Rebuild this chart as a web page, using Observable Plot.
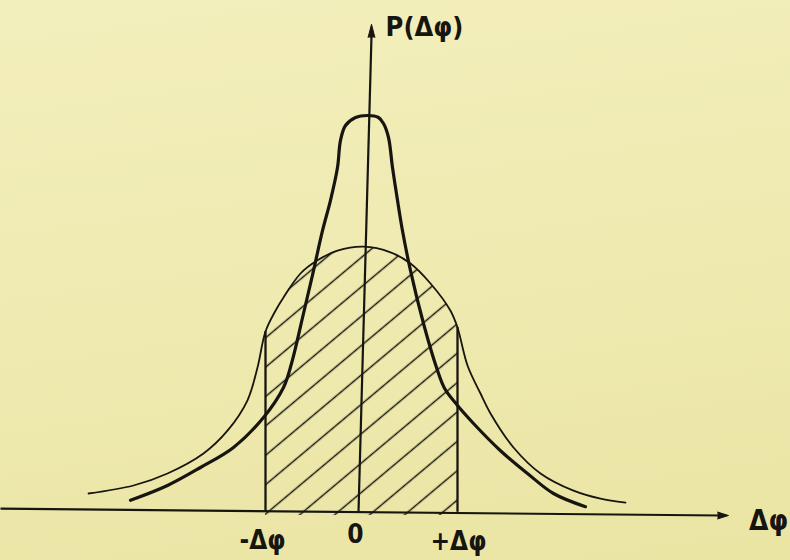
<!DOCTYPE html>
<html>
<head>
<meta charset="utf-8">
<script src="https://cdn.jsdelivr.net/npm/d3@7"></script>
<script src="https://cdn.jsdelivr.net/npm/@observablehq/plot@0.6"></script>
<style>
  html, body { margin: 0; padding: 0; }
  body {
    width: 790px; height: 560px; overflow: hidden;
    background: linear-gradient(172deg, #f3efbd 0%, #efeab0 50%, #eae5a3 100%);
  }
  #chart svg { display: block; }
</style>
</head>
<body>
<div id="chart"></div>
<script>
// Phase deviation Δφ (0 at the centre) and probability density P(Δφ).

// Sharp, tall distribution
const narrowX = [-2.40, -2.03, -1.70, -1.37, -1.07, -0.87, -0.79, -0.67, -0.57, -0.48, -0.40, -0.33, -0.30, -0.25, -0.15, -0.03, 0.08, 0.13, 0.18, 0.22, 0.27, 0.32, 0.40, 0.53, 0.66, 0.74, 0.86, 1.03, 1.30, 1.57, 1.83, 2.15];
const narrowP = [0.038, 0.075, 0.120, 0.170, 0.245, 0.320, 0.380, 0.505, 0.612, 0.712, 0.788, 0.870, 0.938, 0.975, 0.995, 1.000, 0.995, 0.980, 0.945, 0.870, 0.788, 0.712, 0.612, 0.480, 0.370, 0.318, 0.278, 0.230, 0.162, 0.105, 0.055, 0.022];

// Broad, low distribution
const wideX = [-2.82, -2.37, -2.03, -1.67, -1.43, -1.23, -1.13, -1.05, -0.95, -0.87, -0.70, -0.53, -0.33, -0.07, 0.20, 0.40, 0.60, 0.80, 0.87, 0.97, 1.10, 1.20, 1.43, 1.70, 2.03, 2.30, 2.55];
const wideP = [0.055, 0.075, 0.105, 0.155, 0.212, 0.288, 0.370, 0.460, 0.512, 0.545, 0.605, 0.638, 0.662, 0.672, 0.658, 0.630, 0.580, 0.512, 0.470, 0.375, 0.305, 0.255, 0.170, 0.105, 0.062, 0.042, 0.032];

// Interval bounds −Δφ … +Δφ and where their verticals meet the broad curve
const boundX = [-1.05, 0.87];
const boundTop = [0.460, 0.470];

// Labels under the abscissa
const tickLabels = ["-Δφ", "0", "+Δφ"];
const tickX = [-1.08, -0.15, 0.88];
const tickY = [-0.064, -0.048, -0.066];

// Axis titles
const xTitle = "Δφ";
const yTitle = "P(Δφ)";

const ink = "#17150f";
const narrow = narrowX.map((x, i) => ({x, p: narrowP[i]}));
const wide = wideX.map((x, i) => ({x, p: wideP[i]}));
const bounds = boundX.map((x, i) => ({x, top: boundTop[i]}));
const ticks = tickLabels.map((label, i) => ({label, x: tickX[i], y: tickY[i]}));

// Hand-drawn axes: slightly tilted ordinate, abscissa sloping a touch
const axes = [
  {x1: -3.70, y1: 0.017, x2: 3.50, y2: 0.000},   // abscissa
  {x1: -0.12, y1: 0.008, x2: 0.01, y2: 1.200}    // ordinate
];
const heads = [
  {x: 3.58, y: 0.000, rotate: 90, length: 15},
  {x: 0.01, y: 1.228, rotate: 0, length: 18}
];

const font = "'DejaVu Sans Condensed', 'DejaVu Sans', sans-serif";

const plot = Plot.plot({
  width: 790,
  height: 560,
  margin: 0,
  style: {background: "transparent", color: ink, fontFamily: font},
  x: {domain: [-3.70, 4.20], axis: null},
  y: {domain: [-0.1125, 1.2875], axis: null},
  marks: [
    // hatched probability inside ±Δφ under the broad curve
    Plot.areaY(wide, {x: "x", y: "p", curve: "catmull-rom", fill: "url(#hatch)", className: "hatched"}),
    Plot.ruleX(bounds, {x: "x", y1: 0.008, y2: "top", stroke: ink, strokeWidth: 2.3}),
    Plot.link(axes, {x1: "x1", y1: "y1", x2: "x2", y2: "y2", stroke: ink, strokeWidth: 2.2}),
    Plot.vector(heads, {x: "x", y: "y", rotate: "rotate", length: "length", shape: "spike", r: 3.4, anchor: "end", fill: ink, stroke: ink, strokeWidth: 1}),
    Plot.line(wide, {x: "x", y: "p", curve: "catmull-rom", stroke: ink, strokeWidth: 1.8}),
    Plot.line(narrow, {x: "x", y: "p", curve: "catmull-rom", stroke: ink, strokeWidth: 3.2, strokeLinecap: "round"}),
    Plot.text(ticks, {x: "x", y: "y", text: "label", fontSize: 26, fontWeight: "bold", fill: ink}),
    Plot.text([xTitle], {x: 3.98, y: -0.015, text: d => d, fontSize: 28, fontWeight: "bold", fill: ink}),
    Plot.text([yTitle], {x: 0.54, y: 1.22, text: d => d, fontSize: 27, fontWeight: "bold", fill: ink})
  ]
});

// Diagonal hatching pattern and a clip to the ±Δφ strip
const ns = "http://www.w3.org/2000/svg";
const sx = plot.scale("x"), sy = plot.scale("y");
const defs = document.createElementNS(ns, "defs");
defs.innerHTML =
  `<pattern id="hatch" patternUnits="userSpaceOnUse" width="40" height="22.5" patternTransform="translate(20.6,0) rotate(-40)">` +
  `<line x1="-2" y1="11.25" x2="42" y2="11.25" stroke="${ink}" stroke-width="1.6"/></pattern>` +
  `<clipPath id="strip"><rect x="${sx.apply(boundX[0])}" y="0" width="${sx.apply(boundX[1]) - sx.apply(boundX[0])}" height="${sy.apply(0)}"/></clipPath>`;
plot.insertBefore(defs, plot.firstChild);
const hatched = plot.querySelector("g.hatched");
if (hatched) hatched.setAttribute("clip-path", "url(#strip)");

document.getElementById("chart").append(plot);
</script>
</body>
</html>
